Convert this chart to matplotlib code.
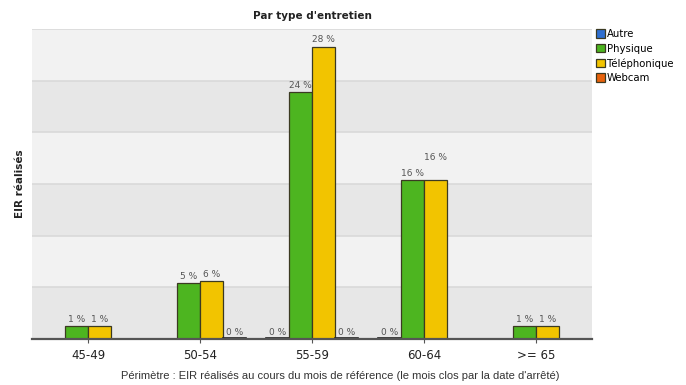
import matplotlib
matplotlib.use("Agg")
import matplotlib.pyplot as plt
import numpy as np

# -----------------------------
# Data
# -----------------------------
categories = ["45-49", "50-54", "55-59", "60-64", ">= 65"]
series = ["Autre", "Physique", "Téléphonique", "Webcam"]
colors = ["#2f6fd0", "#4db520", "#f2c400", "#e8620c"]

# nombre d'EIR (hauteur des barres), None = pas de barre
autre = [None, None, 0, 0, None]
physique = [13, 54, 239, 154, 13]
telephonique = [13, 56, 283, 154, 13]
webcam = [None, 0, 0, None, None]

# libellés en %
pct_autre = [None, None, "0", "0", None]
pct_physique = ["1", "5", "24", "16", "1"]
pct_telephonique = ["1", "6", "28", "16", "1"]
pct_webcam = [None, "0", "0", None, None]

values = [autre, physique, telephonique, webcam]
labels = [pct_autre, pct_physique, pct_telephonique, pct_webcam]

# -----------------------------
# Figure
# -----------------------------
fig = plt.figure(figsize=(6.86, 3.85), dpi=100)
ax = fig.add_axes([32 / 686, 46 / 385, 560 / 686, 310 / 385])

ymax = 300
ax.set_xlim(-0.5, len(categories) - 0.5)
ax.set_ylim(0, ymax)

# bandes alternées
for i, y0 in enumerate(range(0, ymax, 50)):
    ax.axhspan(y0, y0 + 50, color="#e7e7e7" if i % 2 == 0 else "#f2f2f2", zorder=0, lw=0)
    ax.axhline(y0 + 50, color="#d9d9d9", lw=1.2, zorder=0.5)

width = 0.205
x = np.arange(len(categories))
for s, (vals, labs, col) in enumerate(zip(values, labels, colors)):
    offs = (s - 1.5) * width
    for i, v in enumerate(vals):
        if v is None:
            continue
        xc = x[i] + offs
        if v > 0:
            ax.bar(xc, v, width, color=col, edgecolor="#3b3a22", linewidth=0.9, zorder=3)
        else:
            ax.plot([xc - width / 2, xc + width / 2], [0.6, 0.6], color="#222222", lw=1.2, zorder=3)
        ytxt = v + 2
        if s == 2 and i == 3:
            ytxt = v + 17
        ax.text(xc, ytxt, labs[i] + " %", ha="center", va="bottom",
                fontsize=6.5, color="#555555", zorder=4)

ax.set_xticks(x)
ax.set_xticklabels(categories, fontsize=8.5, color="#222222")
ax.set_yticks([])
ax.tick_params(axis="x", length=3, color="#555555", pad=4)
for side in ["top", "right", "left"]:
    ax.spines[side].set_visible(False)
ax.spines["bottom"].set_color("#555555")
ax.spines["bottom"].set_linewidth(1.6)
ax.spines["bottom"].set_zorder(5)

ax.set_title("Par type d'entretien", fontsize=7.5, fontweight="bold", pad=7, color="#222222")
ax.set_ylabel("EIR réalisés", fontsize=7.5, fontweight="bold", labelpad=5, color="#222222")
fig.text(340 / 686, 1 - 376 / 385, "Périmètre : EIR réalisés au cours du mois de référence (le mois clos par la date d'arrêté)",
         ha="center", va="center", fontsize=8, family="Liberation Sans", color="#333333")

# légende
handles = [plt.Rectangle((0, 0), 1, 1, facecolor=c, edgecolor="#3b3a22", lw=0.9) for c in colors]
leg = fig.legend(handles, series, loc="upper left", bbox_to_anchor=(596 / 686, 1 - 29 / 385),
                 frameon=False, fontsize=7.3, handlelength=0.85, handleheight=0.9,
                 handletextpad=0.25, labelspacing=0.45, borderaxespad=0, borderpad=0)

fig.savefig("out.png", dpi=100)
